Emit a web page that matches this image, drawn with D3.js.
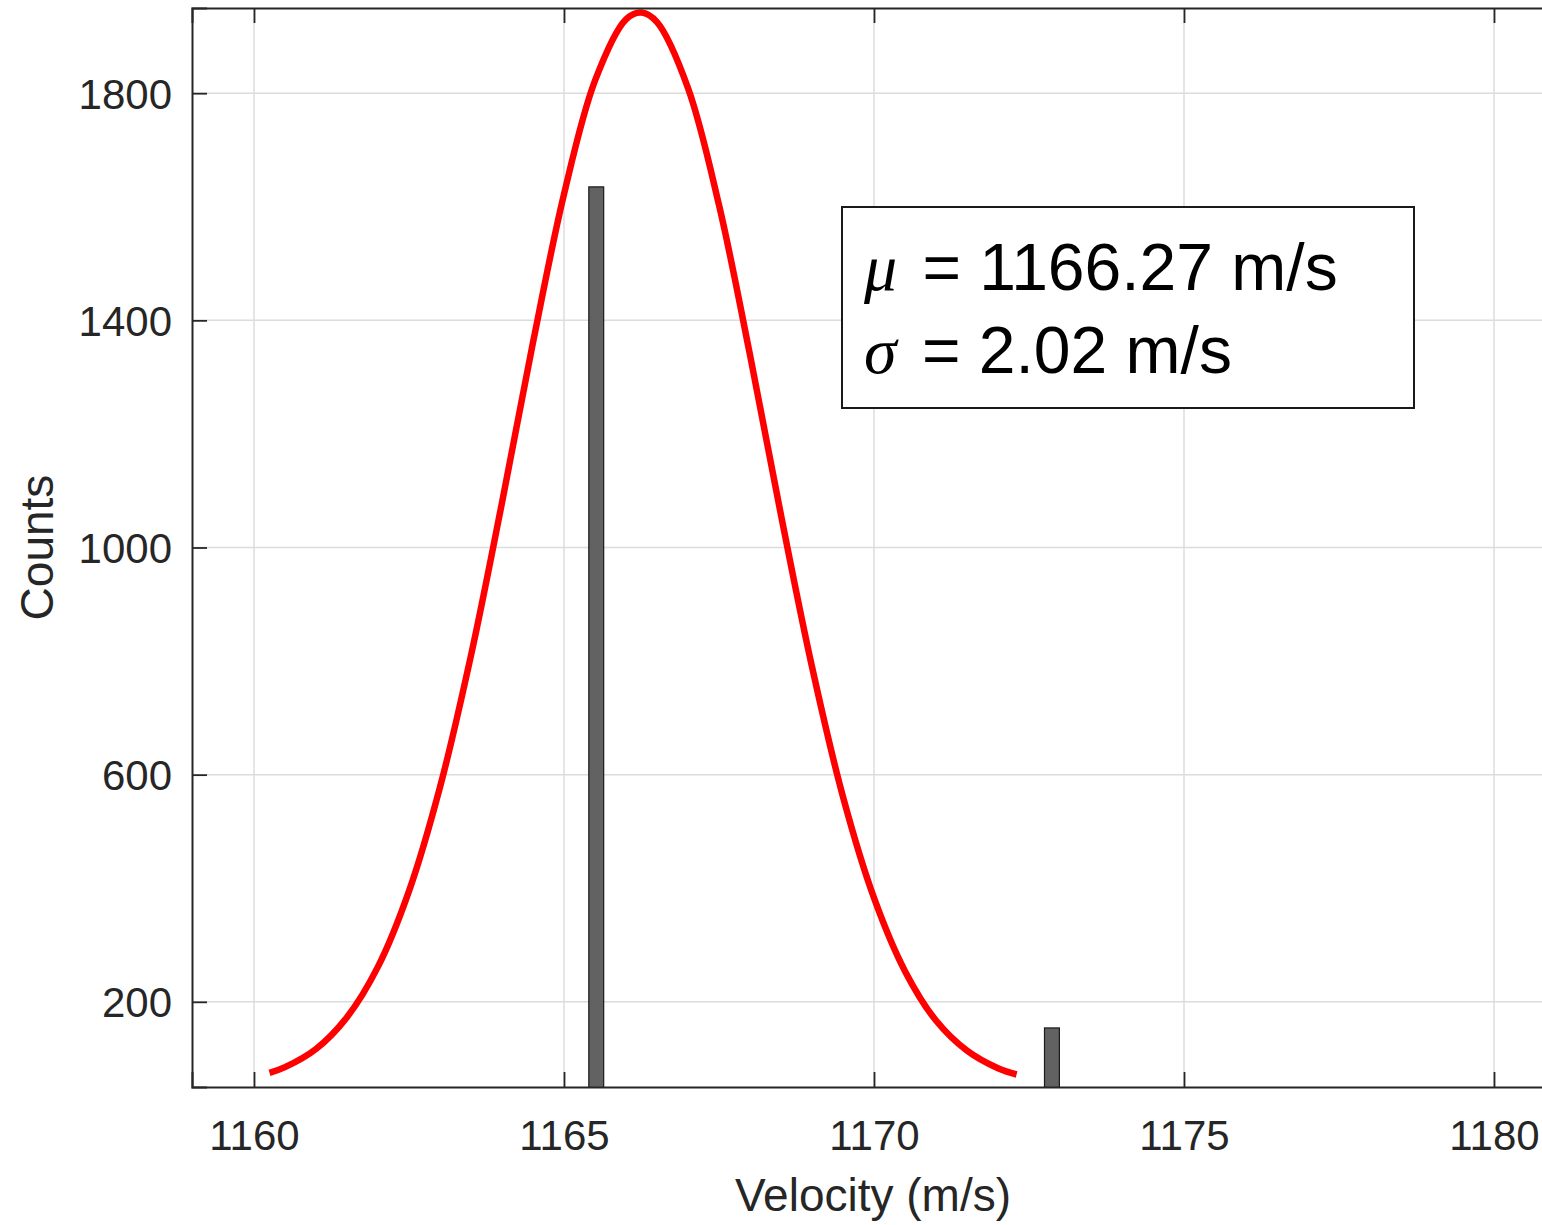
<!DOCTYPE html>
<html>
<head>
<meta charset="utf-8">
<script src="https://cdn.jsdelivr.net/npm/d3@7"></script>
<style>
  body { margin: 0; background: #fff; }
  svg { display: block; font-family: "Liberation Sans", Arial, sans-serif; }
</style>
</head>
<body>
<svg id="chart" width="1542" height="1225"></svg>
<script>
// histogram bins (centre, count)
const binCenters = [1165.52, 1172.87];
const binCounts = [1635, 154];
const binWidth = 0.24;

// fitted curve
const fitX = [1160.25, 1160.5, 1161, 1161.5, 1162, 1162.5, 1163, 1163.5, 1164, 1164.5,
              1165, 1165.5, 1166, 1166.25, 1166.5, 1167, 1167.5, 1168, 1168.5, 1169,
              1169.5, 1170, 1170.5, 1171, 1171.5, 1172, 1172.3];
const fitY = [75, 85, 117, 173, 262, 395, 578, 810, 1079, 1361,
              1622, 1822, 1930, 1942, 1925, 1809, 1603, 1339, 1057, 790,
              561, 383, 254, 167, 114, 83, 72];

const xTicks = [1160, 1165, 1170, 1175, 1180];
const yTicks = [200, 600, 1000, 1400, 1800];
const statLines = [ { sym: 'μ', text: ' = 1166.27 m/s' },
                    { sym: 'σ', text: ' = 2.02 m/s' } ];

// layout
const margin = { left: 192, top: 8 };
const plotW = 1364;
const plotH = 1079;
const axisCol = '#262626';
const tickLen = 15;

const svg = d3.select('#chart');

const x = d3.scaleLinear().domain([1159, 1181]).range([0, plotW]);
const y = d3.scaleLinear().domain([50, 1950]).range([plotH, 0]);

const g = svg.append('g')
  .attr('transform', 'translate(' + margin.left + ',' + margin.top + ')');

g.append('defs').append('clipPath').attr('id', 'clip')
  .append('rect').attr('width', plotW).attr('height', plotH);

// grid
g.append('g').selectAll('line.vg')
  .data(xTicks).enter().append('line')
  .attr('x1', d => x(d)).attr('x2', d => x(d))
  .attr('y1', 0).attr('y2', plotH)
  .attr('stroke', '#dcdcdc').attr('stroke-width', 1.5);

g.append('g').selectAll('line.hg')
  .data(yTicks).enter().append('line')
  .attr('y1', d => y(d)).attr('y2', d => y(d))
  .attr('x1', 0).attr('x2', plotW)
  .attr('stroke', '#dcdcdc').attr('stroke-width', 1.5);

const plot = g.append('g').attr('clip-path', 'url(#clip)');

// bars
plot.selectAll('rect.bar')
  .data(binCenters).enter().append('rect')
  .attr('class', 'bar')
  .attr('x', d => x(d - binWidth / 2))
  .attr('width', d => x(d + binWidth / 2) - x(d - binWidth / 2))
  .attr('y', (d, i) => y(binCounts[i]))
  .attr('height', (d, i) => y(0) - y(binCounts[i]))
  .attr('fill', '#626262')
  .attr('stroke', '#1a1a1a')
  .attr('stroke-width', 1.2);

// fit curve
const line = d3.line()
  .x(d => x(d[0]))
  .y(d => y(d[1]))
  .curve(d3.curveCatmullRom);

plot.append('path')
  .datum(fitX.map((v, i) => [v, fitY[i]]))
  .attr('d', line)
  .attr('fill', 'none')
  .attr('stroke', '#ff0000')
  .attr('stroke-width', 6.5);

// axes (MATLAB style, ticks pointing inward)
const fmt = d3.format('d');
const xAxis = g.append('g')
  .attr('transform', 'translate(0,' + plotH + ')')
  .call(d3.axisBottom(x).tickValues(xTicks).tickFormat(fmt).tickSize(-tickLen).tickPadding(33));
const xAxisTop = g.append('g')
  .call(d3.axisTop(x).tickValues(xTicks).tickSize(-tickLen).tickFormat(''));
const yAxis = g.append('g')
  .call(d3.axisLeft(y).tickValues(yTicks).tickFormat(fmt).tickSize(-tickLen).tickPadding(20));

[xAxis, xAxisTop, yAxis].forEach(a => {
  a.select('.domain').attr('stroke', axisCol).attr('stroke-width', 2);
  a.selectAll('.tick line').attr('stroke', axisCol).attr('stroke-width', 1.8);
  a.selectAll('.tick text')
    .attr('fill', axisCol)
    .style('font-size', '42px')
    .style('font-family', '"Liberation Sans", Arial, sans-serif');
});
yAxis.selectAll('.tick text').attr('dy', '0.36em');

// axis labels
svg.append('text')
  .attr('x', 873)
  .attr('y', 1211)
  .attr('text-anchor', 'middle')
  .attr('fill', axisCol)
  .style('font-size', '46px')
  .text('Velocity (m/s)');

svg.append('text')
  .attr('transform', 'translate(53,' + (margin.top + plotH / 2) + ') rotate(-90)')
  .attr('text-anchor', 'middle')
  .attr('fill', axisCol)
  .style('font-size', '46px')
  .text('Counts');

// stats box
svg.append('rect')
  .attr('x', 842).attr('y', 207)
  .attr('width', 572).attr('height', 201)
  .attr('fill', '#fff')
  .attr('stroke', '#1a1a1a')
  .attr('stroke-width', 2);

const stats = svg.append('g');
stats.selectAll('text')
  .data(statLines).enter().append('text')
  .attr('x', 864)
  .attr('y', (d, i) => 290 + i * 83)
  .style('font-size', '66px')
  .attr('fill', '#000')
  .each(function (d) {
    const t = d3.select(this);
    t.append('tspan')
      .style('font-family', '"Liberation Serif", "DejaVu Serif", serif')
      .style('font-style', 'italic')
      .text(d.sym);
    t.append('tspan')
      .attr('dx', '7')
      .text(d.text);
  });
</script>
</body>
</html>
